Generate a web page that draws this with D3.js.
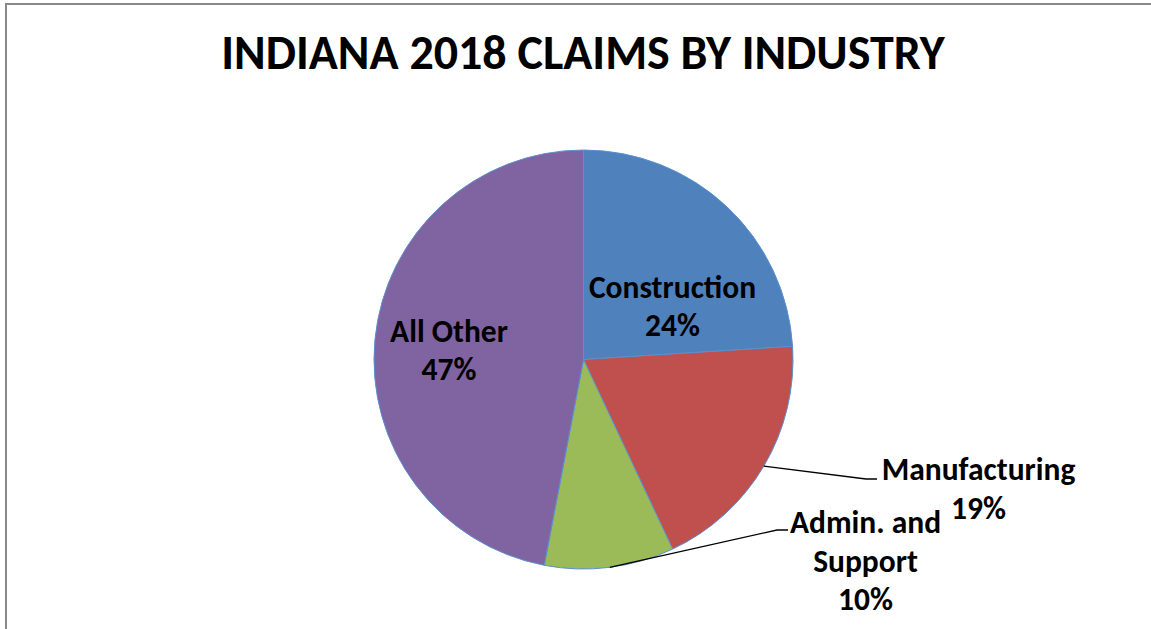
<!DOCTYPE html>
<html>
<head>
<meta charset="utf-8">
<script src="https://cdn.jsdelivr.net/npm/d3@7"></script>
<style>
  html, body { margin: 0; padding: 0; background: #fff; }
  svg { display: block; }
  text { font-family: Carlito, Lato, "Open Sans", sans-serif; font-weight: bold; fill: #000; }
</style>
</head>
<body>
<svg id="chart" width="1151" height="629"></svg>
<script>
// Indiana 2018 workers' claims, share by industry (percent)
const categories = ["Construction", "Manufacturing", "Admin. and Support", "All Other"];
const shares = [24, 19, 10, 47];
const colors = ["#4F81BD", "#C0504D", "#9BBB59", "#8064A2"];
const chartTitle = "INDIANA 2018 CLAIMS BY INDUSTRY";

const svg = d3.select("#chart");
const W = 1151, H = 629;

// outer chart frame (runs off the right and bottom edges)
svg.append("rect")
  .attr("x", 6).attr("y", 4)
  .attr("width", W + 20).attr("height", H + 20)
  .attr("fill", "#fff")
  .attr("stroke", "#898989")
  .attr("stroke-width", 2);

svg.append("text")
  .attr("x", 583).attr("y", 69)
  .attr("text-anchor", "middle")
  .style("font-size", "48px")
  .text(chartTitle);

const cx = 583.5, cy = 359.5, R = 209.5;
const g = svg.append("g").attr("transform", `translate(${cx},${cy})`);

const pie = d3.pie().sort(null).value(d => d.v);
const arcs = pie(categories.map((c, i) => ({ c, v: shares[i], col: colors[i] })));
const arc = d3.arc().innerRadius(0).outerRadius(R);

g.selectAll("path.slice")
  .data(arcs)
  .enter().append("path")
  .attr("class", "slice")
  .attr("d", arc)
  .attr("fill", d => d.data.col)
  .attr("stroke", "#5B8FCF")
  .attr("stroke-width", 1);

// label placement relative to the pie centre: x is the text centre, y the first baseline.
// outside labels hang off a leader line drawn from the slice's outer midpoint
const layout = [
  { inside: true,  x: 89,     y: -62,   lines: ["Construction"] },
  { inside: false, x: 395,    y: 120.5, elbow: [282.5, 119.5], tail: [293.5, 119.5], lines: ["Manufacturing"] },
  { inside: false, x: 282,    y: 173.5, elbow: [193.5, 170.5], tail: [204.5, 170.5], lines: ["Admin. and", "Support"] },
  { inside: true,  x: -134.5, y: -18,   lines: ["All Other"] }
];
const lineH = 38.5;

arcs.forEach((a, i) => {
  const L = layout[i];
  const pct = Math.round(a.data.v) + "%";
  const all = L.lines.concat([pct]);
  if (!L.inside) {
    const mid = (a.startAngle + a.endAngle) / 2;
    const p0 = [Math.sin(mid) * R, -Math.cos(mid) * R];
    g.append("polyline")
      .attr("points", [p0, L.elbow, L.tail].map(p => p.join(",")).join(" "))
      .attr("fill", "none")
      .attr("stroke", "#000")
      .attr("stroke-width", 1.3);
  }
  const t = g.append("text").attr("text-anchor", "middle").style("font-size", "31.5px");
  all.forEach((s, k) => {
    t.append("tspan")
      .attr("x", L.x)
      .attr("y", L.y + k * lineH)
      .text(s);
  });
});
</script>
</body>
</html>
